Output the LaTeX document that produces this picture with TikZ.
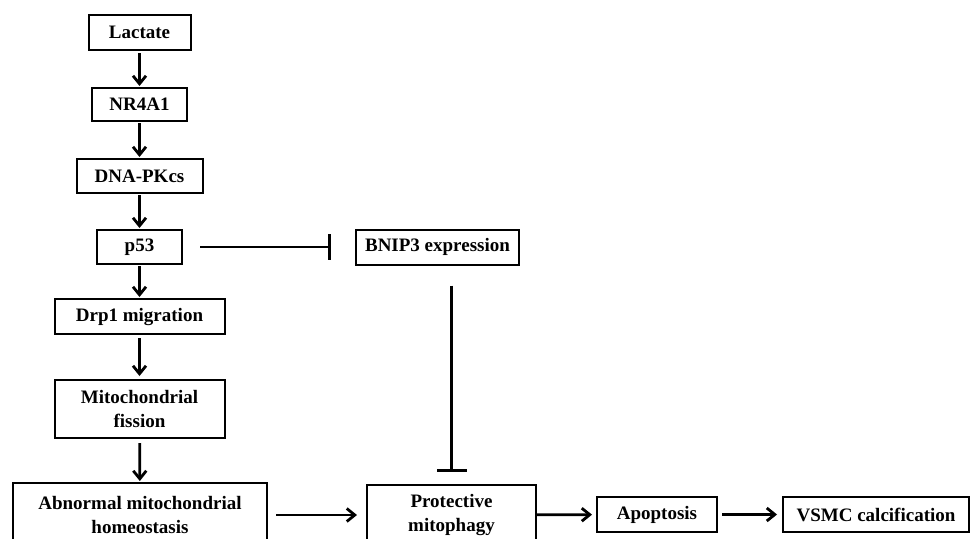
\documentclass[tikz,border=0pt]{standalone}
\usepackage{fontspec}
\setmainfont{Liberation Serif}
\usepackage{tikz}
\usetikzlibrary{arrows.meta}

\begin{document}
\begin{tikzpicture}[
        x=1pt, y=-1pt,
        block/.style={draw, line width=2pt, rectangle, inner sep=0pt, align=center,
            font=\fontsize{19}{24}\selectfont\bfseries},
        activate/.style={line width=2.8pt, -{Straight Barb[length=8pt, width=13pt]}},
        inhibit/.style={line width=2.8pt, -{Bar[width=26pt]}}
    ]
    \useasboundingbox (0,0) rectangle (971,538);
    \node[block, minimum width=102pt, minimum height=35pt] (lactate) at (139.5,32.5) {Lactate};
    \node[block, minimum width=95pt, minimum height=33pt] (nr4a1) at (139.5,104.5) {NR4A1};
    \node[block, minimum width=126pt, minimum height=34pt] (dnapk) at (139.5,176) {DNA-PKcs};
    \node[block, minimum width=85pt, minimum height=34pt] (p53) at (139.5,247) {p53};
    \node[block, minimum width=163pt, minimum height=35pt] (bnip3) at (437.5,247) {BNIP3 expression};
    \node[block, minimum width=170pt, minimum height=35pt] (drp1) at (139.5,316.5) {Drp1 migration};
    \node[block, minimum width=170pt, minimum height=58pt] (fission) at (139.5,409) {Mitochondrial\\fission};
    \node[block, minimum width=254pt, minimum height=64pt] (abnormal) at (140,515) {Abnormal mitochondrial\\homeostasis};
    \node[block, minimum width=169pt, minimum height=60pt] (mitophagy) at (451.5,515) {Protective\\mitophagy};
    \node[block, minimum width=120pt, minimum height=35pt] (apoptosis) at (657,514.5) {Apoptosis};
    \node[block, minimum width=186pt, minimum height=35pt] (vsmc) at (876,514.5) {VSMC calcification};

    \draw[activate, shorten <=2pt, shorten >=1pt] (lactate) -- (nr4a1);
    \draw[activate, shorten <=1pt, shorten >=1pt] (nr4a1) -- (dnapk);
    \draw[activate, shorten <=1pt, shorten >=1pt] (dnapk) -- (p53);
    \draw[activate, shorten <=1pt, shorten >=1pt] (p53) -- (drp1);
    \draw[activate, shorten <=3pt, shorten >=3pt] (drp1) -- (fission);
    \draw[activate, shorten <=4pt, shorten >=1pt] (fission) -- (abnormal);
    \draw[activate, shorten <=8pt, shorten >=9pt] (abnormal) -- (mitophagy);
    \draw[activate, shorten >=4pt] (mitophagy) -- (apoptosis);
    \draw[activate, shorten <=4pt, shorten >=5pt] (apoptosis) -- (vsmc);
    \draw[inhibit, shorten <=17pt, shorten >=24pt] (p53) -- (bnip3);
    \draw[inhibit, -{Bar[width=30pt]}, shorten <=20pt, shorten >=12pt] (bnip3.south -| mitophagy.north) -- (mitophagy.north);
\end{tikzpicture}
\end{document}
